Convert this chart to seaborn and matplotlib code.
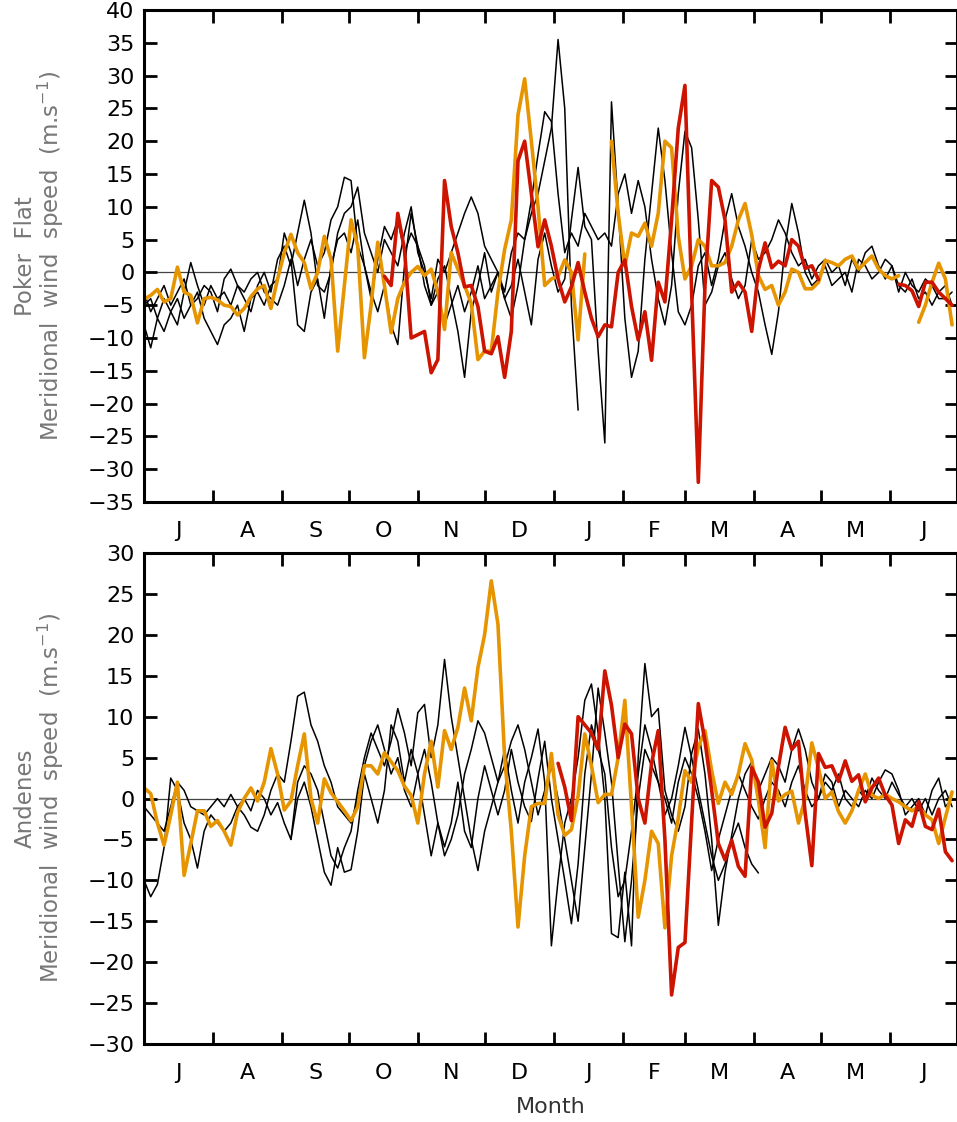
import numpy as np
import pandas as pd
import seaborn as sns
import matplotlib.pyplot as plt

nan = np.nan

# day of the year starting 1 July, sampled every 3 days
days = np.arange(0, 366, 3)
month_starts = [0, 31, 62, 92, 123, 153, 184, 215, 243, 274, 304, 335, 365]
month_labels = ['J', 'A', 'S', 'O', 'N', 'D', 'J', 'F', 'M', 'A', 'M', 'J']

# ---- Poker Flat (top panel) ----
pf_black1 = [-8, -11.5, -7, -9, -6, -4, -7, -5, -3, -7,
             -9, -11, -8, -7, -5, -9, -4, -3, -5, -2,
             -1, 6, 3, -2, 2, 5, 1, 3, 8, 10,
             14.5, 14, 4, 1, -4, 2, 7, 5, 8, 3,
             6, 4, -2, -5, -3, -8, -5, -2, -6, -3,
             1, -4, -2, 0, -3, 3, 6, 5, 9, 12,
             17, 22, 35.5, 25, -5, -21] + [nan] * 56
pf_black2 = [-3, -6, -4, -2, -5, -3, -1, -5, -4, -2,
             -3, -6, -1, 0.5, -2, -3, -1, 0, -3, -4,
             -5, -2, 2, -8, -9, -3, -1, -7, 1, 5,
             6, 3, 8, 1, -3, -6, -2, -8, -11, 1,
             9, 4, 1, -5, -1, 1, -4, -9, -16, -6,
             -2, 3, -3, 0, -4, -2, 2, -3, -8, 2,
             6, 1, -3, -1, 8, 16, 7, 5, -12, -26,
             26, 10, -7, -16, -12, 2, 12, 22, 14, 3,
             -6, -8, -5, 1, 3, -2, 2, 8, 12, 7,
             4, 0, -3, -8, -12.5, -6, 4, 10.5, 6, 0,
             -2, -1, 1, -2, -1, 0, -3, 2, 1, -1,
             0, 2, 1, -2, -3, -1, -4, -3, -5, -3,
             -2, -5]
pf_black3 = [-5, -4, -7, -4, -6, -8, -3, 1.5, -2, -5,
             -2, -4, -3, -5, -2, -4, -6, -2, 0, -3,
             2, 4, 1, 6, 11, 6, -2, -3, 0, 6,
             9, 10, 13, 6, 3, 0, 5, 3, 1, 6,
             10, 3, 0, -4, 2, 0, 3, 6, 9, 11.5,
             9, 4, 2, 0, -4, -7, -2, 5, 11, 18,
             24.5, 23, 12, 3, 6, 4, 9, 7, 5, 6,
             4, 12, 15, 9, 14, 10, 2, -4, -8, -2,
             12, 21.5, 19, 8, -5, -3, 1, 3, -1, -4,
             -2, 5, 2, 3, 5, 8, 6, 3, 1, 2,
             -1, 1, 2, 0, 1, -2, 2, 0, 3, 4,
             1, -1, 1, -3, 0, -2, -3, -1, -2, -4,
             -4, -3]
pf_orange = [-4.1, -3.5, -2.6, -4.5, -4, 0.8, -3, -3.5, -7.7, -4,
             -3.8, -4.2, -5, -5.2, -6.5, -5.5, -3.7, -2.5, -2, -5.5,
             -1, 3, 5.8, 3, 1.5, -2.5, 0, 5.5, 2, -12,
             -2, 8, 4, -13, -5, 4.6, -2, -9.2, -4, -1.5,
             0, 0.9, -0.5, 0.5, -3, -8.7, 3, 0.5, -2, -4.7,
             -13.3, -12, -12, -3, 3.5, 8, 24, 29.5, 20, 10,
             -2, -1, -0.6, 1.9, 0, -10.3, 2.8, nan, nan, nan,
             20, 9, 1, 6, 5.5, 7.5, 4, 9, 20, 19,
             5.5, -1, 1, 5, 4, 1, 1, 1.5, 4, 8,
             10.5, 5.7, -0.5, -2.6, -2, -5, -3, 0.5, 0, -2.5,
             -2.5, -1.5, 1.8, 1.5, 1, 2, 2.5, 0.5, 1.5, 2.5,
             0.5, -0.5, -1, -0.5, nan, nan, -7.6, -5, -1.5, 1.4,
             -1, -8]
pf_red = [nan] * 36 + [
             -0.6, -2, 9, 3.5,
             -10, -9.5, -9, -15.3, -13.3, 14, 7, 3, -2.2, -2,
             -5.2, -12, -12.4, -9.8, -16, -9, 17, 20, 12, 3.9,
             8, 4, -1, -4.5, -2.2, 1.5, -3, -7, -9.8, -8,
             -8.3, 0, 1.9, -5.2, -10.3, -6, -13.4, -1.5, -4.5, 8,
             22, 28.5, -3, -32, -2, 14, 13, 8, -3, -1.5,
             -3, -9, 0.4, 4.5, 0.7, 1.7, 1, 5, 4, 0.6,
             1, -1.1, nan, nan, nan, nan, nan, nan, nan, nan,
             nan, nan, nan, -1.8, -2, -2.8, -5.2, -1.5, -1.5, -3,
             -4, -5]

# ---- Andenes (bottom panel) ----
an_black1 = [-10, -12, -10.5, -6, 2.5, 1, -3, -5, -8.5, -4,
             -2, -3, -4, -3, -1, -2, -3.5, -4, -2, 1,
             3, 2, 7, 12.5, 13, 9, 7, 4, 2, -1,
             -2, -3, 0, 4, 7, 9, 6, 3, 5, 1,
             -1, 3, 6, 2, -3, -7, -5, -2, 3, 6,
             9.5, 8, 5, 2, 6, 1, -3, 2, 5, 8.5,
             2, -18, -10, -3, 0, 5, 12, 14, 8, 0,
             -16.5, -17, -9, -18, 5, 16.5, 10, 11, 1, -2,
             -4, -1, 5.5, 8.5, 3, -5, -15.5, -9, -4.5, 0,
             3, 4.5, 1, 3, 5, 4, 2, 6, 8.5, 6,
             2, 0, 3, 2, -1, 1, 0, -1, 1, 0,
             2, 3.5, 3, 1, -2, -1, 0, -2, 1, 2.5,
             -1, 0]
an_black2 = [-1, -2, -3, -4, -1, 2, 1, -1, -1.5, -2,
             -1, 0, -1, 0.5, -1, 0, -1.5, 1, 0, -2,
             -0.5, -3, -5, 2, 4, 3, 1, -3, -7, -8.5,
             -6, -4, 1, 5, 8, 6, 4, 7, 11, 8,
             4, 10.5, 11.5, 5, 9, 17, 10, 5, 0, -5,
             -8.8, -4, -1, 2, 4, 7, 9, 6, 2, -2,
             1, 4, 0, -5, -10, -15, -6, 3, 13.5, 8,
             2, -8, -17.5, -10, 0, 6, 4, 2, 0, -3,
             2, 5, 3, 0, -4, -8.8, -5, -2, 1, 3,
             1, -1, -2.5, 0, 2, 1, -1, 2, 4, 1,
             -1, 0, 2, 1, 3, 0, -1, 1, 0, 2.5,
             1, 0, 2, 0.5, -1, 0, -1.5, 0, -2, 0,
             1, -1]
an_black3 = [nan] * 22 + [
             -5, 0, 2, -1, -5, -9, -10.6, -6,
             -9, -8.7, -4, 3, 0, -3, 1, 9, 7, 2,
             6, 3, -2, -7, -3, -5.9, -3, 2, -4, -6,
             0, 4, 1, -2, 1, 6, 2, -1, -2.8, 2.4,
             7, 0, -5, -10, -15.3, -8, 3, 9, 6, 3,
             -6, -12, -10, -4, 3, 9, 6, 2, -2, 0,
             4, 8.7, 5, 1, -3, -7, -10, -8, -5, -3,
             -6, -8, -9.1] + [nan] * 29
an_orange = [1.3, 0.6, -3, -5.7, -2, 2, -9.4, -5.5, -1.5, -1.5,
             -3.4, -2.7, -4, -5.7, -1.7, 0, 1.3, -0.3, 2, 6.1,
             3, -1.4, -0.3, 4, 7.9, 0, -3, 2.4, 0.7, -0.4,
             -1.5, -2.7, -1, 4, 4, 3, 5.6, 4.5, 3.4, 1.5,
             0.4, -3, 3, 7, 1.4, 8.3, 6, 8.7, 13.5, 9.5,
             16, 20, 26.6, 21.3, 5, -4, -15.7, -7, -1, -0.6,
             -0.6, 5.5, -2, -4.5, -3.8, 0.3, 7.9, 4, -0.5, 0.5,
             0.5, 5, 12, -1, -14.5, -10, -4, -5.5, -15.8, -7,
             -2.4, 3.4, 2, 6.3, 8.3, 3.4, -0.6, 2, 0.5, 3,
             6.7, 4.7, -0.2, -6, 4.6, -0.3, 0.5, 0.9, -3, 0,
             6.8, 3.7, 0, 0.8, -1.6, -3, -1.5, 1, 3, 0.4,
             0, 0.5, 0, -0.4, -1, -1.5, -1, -2, -2.6, -5.5,
             -2.3, 0.8]
an_red = [nan] * 62 + [
             4.3, 1.4, -2.7, 10, 9, 8, 6, 15.6,
             11.4, 5, 9.1, 7.9, 0, -3, 4.3, 8.3, -5, -24,
             -18.2, -17.6, -2.8, 11.6, 7, 1, -5.5, -7.5, -5.1, -8.3,
             -9.5, 3.8, 2, -3.5, -1.8, 3.9, 8.7, 6, 7, -1.8,
             -8.2, 5.5, 3.8, 4, 2.1, 4.6, 2.1, 2.9, -0.4, 1.3,
             2.5, 0.4, -0.8, -5.5, -2.6, -3.4, -0.4, -3.4, -3.8, -1.3,
             -6.5, -7.6]

for s in [pf_black1, pf_black2, pf_black3, pf_orange, pf_red,
          an_black1, an_black2, an_black3, an_orange, an_red]:
    assert len(s) == len(days), len(s)

ORANGE = '#E69500'
RED = '#CC1400'

sns.set_style('ticks')
plt.rcParams['font.family'] = ['DejaVu Sans']
plt.rcParams['axes.edgecolor'] = 'black'
plt.rcParams['xtick.color'] = 'black'
plt.rcParams['ytick.color'] = 'black'
plt.rcParams['text.color'] = 'black'


def draw(ax, values, color, lw):
    df = pd.DataFrame({'day': days, 'v': values})
    # break the line where there is no data
    df['seg'] = df['v'].isna().cumsum()
    df = df.dropna()
    sns.lineplot(data=df, x='day', y='v', units='seg', estimator=None,
                 color=color, lw=lw, ax=ax, legend=False)


def style(ax, ylim, yticks, label):
    ax.axhline(0, color='#444444', lw=0.9, zorder=0)
    ax.set_xlim(0, 365)
    ax.set_ylim(*ylim)
    ax.set_yticks(yticks)
    ax.set_xticks(month_starts, labels=[])
    mids = [(a + b) / 2 for a, b in zip(month_starts[:-1], month_starts[1:])]
    ax.set_xticks(mids, labels=month_labels, minor=True)
    ax.tick_params(axis='x', which='major', direction='in', length=9,
                   width=2, top=True, bottom=True)
    ax.tick_params(axis='x', which='minor', length=0, pad=14, labelsize=16,
                   labelcolor='black')
    ax.tick_params(axis='y', direction='in', length=9, width=2,
                   left=True, right=True, labelsize=16, pad=7,
                   labelcolor='black')
    for sp in ax.spines.values():
        sp.set_linewidth(2.2)
        sp.set_color('black')
    ax.set_xlabel('')
    ax.set_ylabel(label, color='#777777', fontsize=16.5, linespacing=0.95)
    ax.yaxis.set_label_coords(-0.096, 0.5)


fig = plt.figure(figsize=(9.57, 11.22), dpi=100)
ax1 = fig.add_axes([0.1505, 0.5526, 0.849, 0.4385])
ax2 = fig.add_axes([0.1505, 0.0695, 0.849, 0.4376])

for ax, blacks, orange, red in [
        (ax1, [pf_black1, pf_black2, pf_black3], pf_orange, pf_red),
        (ax2, [an_black1, an_black2, an_black3], an_orange, an_red)]:
    for b in blacks:
        draw(ax, b, 'black', 1.1)
    draw(ax, orange, ORANGE, 2.6)
    draw(ax, red, RED, 2.6)

style(ax1, (-35, 40), range(-35, 41, 5),
      'Poker  Flat\nMeridional  wind  speed  (m.s$^{-1}$)')
style(ax2, (-30, 30), range(-30, 31, 5),
      'Andenes\nMeridional  wind  speed  (m.s$^{-1}$)')
ax2.set_xlabel('Month', fontsize=16, color='#333333', labelpad=10)

fig.savefig('out.png', dpi=100)
